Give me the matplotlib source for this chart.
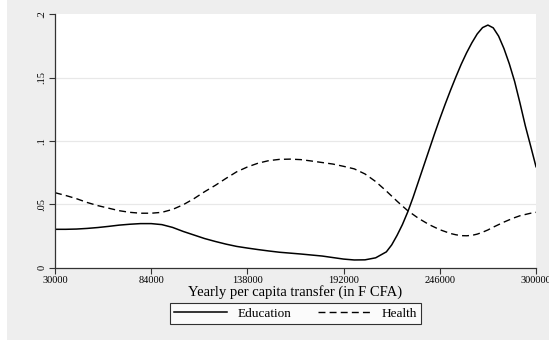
import matplotlib.pyplot as plt
from matplotlib.patches import Rectangle

plt.rcParams['font.family'] = ['Liberation Serif', 'DejaVu Serif']

# yearly per capita transfer (F CFA) and estimated densities
transfer = [30000, 36000, 42000, 48000, 54000, 60000, 66000, 72000, 78000, 84000,
            90000, 96000, 102000, 108000, 114000, 120000, 126000, 132000, 138000, 144000,
            150000, 156000, 162000, 168000, 174000, 180000, 186000, 192000, 198000, 204000,
            210000, 216000, 219000, 222000, 225000, 228000, 231000, 234000, 237000, 240000,
            243000, 246000, 249000, 252000, 255000, 258000, 261000, 264000, 267000, 270000,
            273000, 276000, 279000, 282000, 285000, 288000, 291000, 294000, 297000, 300000]
education = [0.0303, 0.0303, 0.0305, 0.0310, 0.0317, 0.0326, 0.0336, 0.0343, 0.0348, 0.0348,
             0.0340, 0.0318, 0.0286, 0.0258, 0.0230, 0.0207, 0.0186, 0.0168, 0.0155, 0.0143,
             0.0132, 0.0122, 0.0115, 0.0108, 0.0100, 0.0092, 0.0080, 0.0068, 0.0061, 0.0062,
             0.0078, 0.0125, 0.0180, 0.0255, 0.0340, 0.0440, 0.0555, 0.0680, 0.0805, 0.0930,
             0.1055, 0.1175, 0.1290, 0.1400, 0.1505, 0.1605, 0.1695, 0.1775, 0.1845, 0.1895,
             0.1915, 0.1893, 0.1828, 0.1730, 0.1610, 0.1470, 0.1300, 0.1120, 0.0960, 0.0797]
health = [0.0592, 0.0570, 0.0545, 0.0515, 0.0490, 0.0470, 0.0450, 0.0437, 0.0430, 0.0430,
          0.0437, 0.0460, 0.0497, 0.0545, 0.0600, 0.0650, 0.0705, 0.0757, 0.0795, 0.0825,
          0.0845, 0.0855, 0.0857, 0.0853, 0.0842, 0.0830, 0.0818, 0.0800, 0.0780, 0.0740,
          0.0680, 0.0605, 0.0565, 0.0525, 0.0487, 0.0450, 0.0420, 0.0390, 0.0365, 0.0340,
          0.0320, 0.0300, 0.0285, 0.0270, 0.0260, 0.0253, 0.0252, 0.0255, 0.0265, 0.0280,
          0.0298, 0.0320, 0.0340, 0.0360, 0.0378, 0.0395, 0.0410, 0.0420, 0.0430, 0.0437]

xticks = [30000, 84000, 138000, 192000, 246000, 300000]
yticks = [0, 0.05, 0.1, 0.15, 0.2]
ylabels = ['0', '.05', '.1', '.15', '.2']

fig = plt.figure(figsize=(5.49, 3.40), dpi=100, facecolor='white')
# grey graph region, leaving a thin white strip on the left
fig.add_artist(Rectangle((7 / 549, 0), 1, 1, transform=fig.transFigure,
                         facecolor='#eeeeee', edgecolor='none', zorder=-5))

ax = fig.add_axes([55 / 549, 72.3 / 340, 481 / 549, 253.4 / 340])
ax.set_facecolor('white')

ax.plot(transfer, education, color='black', lw=1.1, label='Education',
        solid_joinstyle='round')
ax.plot(transfer, health, color='black', lw=1.0, linestyle=(0, (5, 3)), label='Health')

ax.set_xlim(30000, 300000)
ax.set_ylim(0, 0.2)
ax.set_xticks(xticks)
ax.set_xticklabels([str(t) for t in xticks], fontsize=7.5)
ax.set_yticks(yticks)
ax.set_yticklabels(ylabels, fontsize=7.5, rotation=90, va='center')
ax.tick_params(axis='both', length=4, width=0.8, color='#333333', pad=2)

for y in [0.05, 0.1, 0.15]:
    ax.axhline(y, color='#e8e8e8', lw=0.9, zorder=0)

for side in ['top', 'right']:
    ax.spines[side].set_visible(False)
for side in ['left', 'bottom']:
    ax.spines[side].set_color('#333333')
    ax.spines[side].set_linewidth(0.9)

ax.set_xlabel('Yearly per capita transfer (in F CFA)', fontsize=10.5, labelpad=0)

leg = ax.legend(loc='upper center', bbox_to_anchor=(0.5, -0.115), ncol=2,
                fontsize=9.5, frameon=True, fancybox=False, handlelength=4.0,
                columnspacing=2.0, borderpad=0.3, handletextpad=0.8)
leg.get_frame().set_edgecolor('black')
leg.get_frame().set_linewidth(0.8)

fig.savefig('out.png', dpi=100)
